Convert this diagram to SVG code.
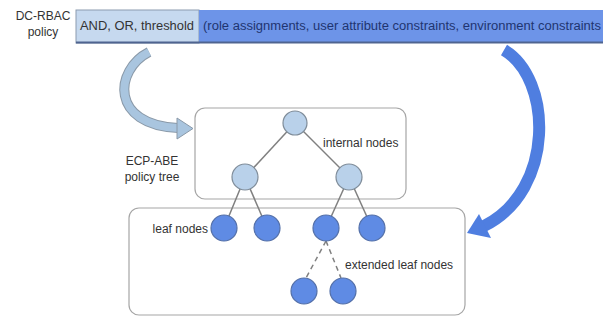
<svg xmlns="http://www.w3.org/2000/svg" width="603" height="322" viewBox="0 0 603 322">
<style>
text{font-family:"Liberation Sans",Arial,sans-serif;font-size:12px;fill:#333}
.box{fill:#fff;stroke:#a6a6a6;stroke-width:1.2}
.inner{fill:#b9d1ea;stroke:#7f8c99;stroke-width:1.2}
.leaf{fill:#5f8be4;stroke:#5470a8;stroke-width:1.2}
.edge{stroke:#808080;stroke-width:1.5;fill:none}
.dash{stroke:#808080;stroke-width:1.5;fill:none;stroke-dasharray:5 4}
</style>
<rect width="603" height="322" fill="#fff"/>
<g id="policy-label">
<text x="43" y="20" text-anchor="middle">DC-RBAC</text>
<text x="43" y="36" text-anchor="middle">policy</text>
</g>
<g id="policy-bar">
<rect x="76" y="10" width="123" height="33" fill="#c6d9ef" stroke="#8c9bb0" stroke-width="1"/>
<rect x="199" y="10" width="404" height="33" fill="#6d94e8"/>
<line x1="76" y1="42.5" x2="603" y2="42.5" stroke="#4f6490" stroke-width="2"/>
<text x="80" y="30" textLength="114" lengthAdjust="spacingAndGlyphs">AND, OR, threshold</text>
<text x="203" y="30" textLength="398" lengthAdjust="spacingAndGlyphs" style="fill:#1f3570">(role assignments, user attribute constraints, environment constraints</text>
</g>
<g id="internal-box"><rect class="box" x="195" y="108" width="211" height="91" rx="10"/></g>
<g id="leaf-box"><rect class="box" x="129" y="208" width="336" height="107" rx="10"/></g>
<g id="connectors">
<line class="edge" x1="295" y1="123" x2="245" y2="177"/>
<line class="edge" x1="295" y1="123" x2="349" y2="177"/>
<line class="edge" x1="245" y1="177" x2="224" y2="228"/>
<line class="edge" x1="245" y1="177" x2="267" y2="228"/>
<line class="edge" x1="349" y1="177" x2="326" y2="228"/>
<line class="edge" x1="349" y1="177" x2="372" y2="228"/>
<line class="dash" x1="326" y1="241" x2="306" y2="278"/>
<line class="dash" x1="326" y1="241" x2="341" y2="278"/>
<g id="arrow-left">
<path d="M149,52 C114,70 110,125 178,128" fill="none" stroke="#8a99a8" stroke-width="10"/>
<path d="M149,52 C114,70 110,125 178,128" fill="none" stroke="#a9c5df" stroke-width="8"/>
<polygon points="177,118 193,128.5 177,139" fill="#a9c5df" stroke="#8a99a8" stroke-width="1"/>
</g>
<g id="arrow-right">
<path d="M504,50 C552,78 556,190 484,226" fill="none" stroke="#4f7ee0" stroke-width="12"/>
<polygon points="479,214 491,238 467,233" fill="#4f7ee0"/>
</g>
</g>
<g id="root"><circle class="inner" cx="295" cy="123" r="12"/></g>
<g id="internal-left"><circle class="inner" cx="245" cy="177" r="13"/></g>
<g id="internal-right"><circle class="inner" cx="349" cy="177" r="13"/></g>
<g id="leaf-1"><circle class="leaf" cx="224" cy="228" r="13"/></g>
<g id="leaf-2"><circle class="leaf" cx="267" cy="228" r="13"/></g>
<g id="leaf-3"><circle class="leaf" cx="326" cy="228" r="13"/></g>
<g id="leaf-4"><circle class="leaf" cx="372" cy="228" r="13"/></g>
<g id="ext-leaf-1"><circle class="leaf" cx="304" cy="291" r="13"/></g>
<g id="ext-leaf-2"><circle class="leaf" cx="343" cy="291" r="13"/></g>
<g id="labels">
<text x="323" y="147">internal nodes</text>
<text x="152" y="165" text-anchor="middle">ECP-ABE</text>
<text x="152" y="181" text-anchor="middle">policy tree</text>
<text x="208" y="233" text-anchor="end">leaf nodes</text>
<text x="345" y="269">extended leaf nodes</text>
</g>
</svg>
